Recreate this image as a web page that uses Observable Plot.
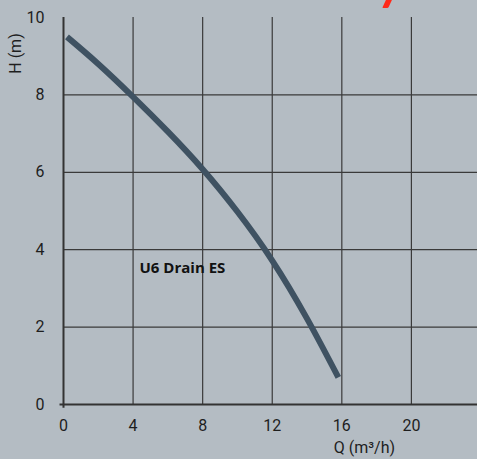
<!DOCTYPE html>
<html>
<head>
<meta charset="utf-8">
<script src="https://cdn.jsdelivr.net/npm/d3@7"></script>
<script src="https://cdn.jsdelivr.net/npm/@observablehq/plot@0.6"></script>
<style>
  html, body { margin: 0; padding: 0; background: #b4bcc3; }
  #wrap { position: relative; width: 477px; height: 459px; overflow: hidden; }
  #logo { position: absolute; left: 385px; top: -4px; width: 6px; height: 12px; background: #ff2a1a; transform: skewX(-25deg); border-radius: 1px; }
</style>
</head>
<body>
<div id="wrap"><div id="logo"></div></div>
<script>
// Pump curve data (Q in m³/h, H in m)
const flow = [0.2, 2, 4, 6, 8, 10, 12, 14, 15.8];
const head = [9.5, 8.8, 7.95, 7.05, 6.08, 4.98, 3.72, 2.22, 0.70];
const xTicks = [0, 4, 8, 12, 16, 20];
const yTicks = [0, 2, 4, 6, 8, 10];
const yGrid = [2, 4, 6, 8];
const xGrid = [4, 8, 12, 16, 20];
const seriesLabel = "U6 Drain ES";
const xLabel = "Q (m³/h)";
const yLabel = "H (m)";

const data = flow.map((q, i) => ({q, h: head[i]}));
const font = "Roboto, 'DejaVu Sans', sans-serif";

const chart = Plot.plot({
  width: 477,
  height: 459,
  marginLeft: 63,
  marginRight: 0,
  marginTop: 17,
  marginBottom: 55,
  style: {background: "#b4bcc3", fontFamily: font, fontSize: "16px", color: "#1e1e1e"},
  x: {domain: [0, 23.8]},
  y: {domain: [0, 10]},
  marks: [
    Plot.gridX(xGrid, {stroke: "#3a3a3a", strokeOpacity: 1, strokeWidth: 1.2}),
    Plot.gridY(yGrid, {stroke: "#3a3a3a", strokeOpacity: 1, strokeWidth: 1.2}),
    Plot.ruleY([0], {x1: -0.2, x2: 23.8, stroke: "#333", strokeWidth: 2}),
    Plot.ruleX([0], {y1: -0.1, y2: 10, stroke: "#333", strokeWidth: 2}),
    Plot.axisX(xTicks, {tickSize: 0, tickPadding: 15, label: null, fontSize: 16, fill: "#1e1e1e"}),
    Plot.axisY(yTicks, {tickSize: 0, tickPadding: 19, label: null, fontSize: 16, fill: "#1e1e1e"}),
    Plot.line(data, {x: "q", y: "h", curve: "natural", stroke: "#3f5262", strokeWidth: 6, strokeLinecap: "butt"}),
    Plot.text([seriesLabel], {x: 4.37, y: 3.51, text: d => d, textAnchor: "start", fontWeight: "bold", fontFamily: "'Open Sans', sans-serif", fontSize: 15, fill: "#111"}),
    Plot.text([xLabel], {x: 17.3, frameAnchor: "bottom", text: d => d, dy: 48, lineAnchor: "bottom", fontSize: 16, fill: "#1e1e1e"}),
    Plot.text([yLabel], {frameAnchor: "top-left", text: d => d, rotate: -90, dx: -48, dy: 36, lineAnchor: "middle", textAnchor: "middle", fontSize: 16, fill: "#1e1e1e"})
  ]
});
document.getElementById("wrap").prepend(chart);
</script>
</body>
</html>
